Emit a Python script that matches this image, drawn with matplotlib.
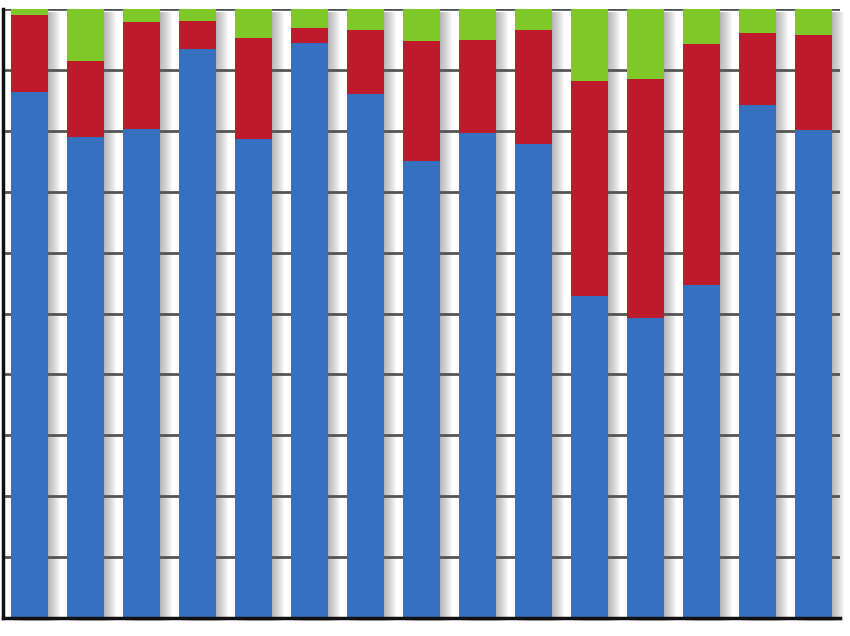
import matplotlib
matplotlib.use("Agg")
import matplotlib.pyplot as plt
import numpy as np

categories = [str(i) for i in range(1, 16)]
blue = [86.4, 79.0, 80.3, 93.4, 78.7, 94.4, 86.0, 75.0, 79.6, 77.8, 52.9, 49.3, 54.7, 84.2, 80.1]
red = [12.6, 12.5, 17.6, 4.6, 16.5, 2.5, 10.6, 19.7, 15.3, 18.8, 35.3, 39.2, 39.6, 11.9, 15.6]
green = [1.0, 8.5, 2.1, 2.0, 4.8, 3.1, 3.4, 5.3, 5.1, 3.4, 11.8, 11.5, 5.7, 3.9, 4.3]

fig = plt.figure(figsize=(8.5, 6.36), dpi=100)
ax = fig.add_axes([3/850, 18/636, 837/850, 609/636])

x = np.arange(len(categories))
w = 0.66
totals = np.array(blue) + np.array(red) + np.array(green)

# soft shadow behind each full stack
px = (len(categories) - 0.06) / 837.0  # data units per pixel in x
py = 100.0 / 609.0
for k in range(1, 13):
    ax.bar(x + k * px, totals, w, bottom=-3 * py, color='#606060',
           alpha=0.045, zorder=2, linewidth=0, clip_on=False)

ax.bar(x, blue, w, color='#3671c1', zorder=3)
ax.bar(x, red, w, bottom=blue, color='#be1a2b', zorder=3)
ax.bar(x, green, w, bottom=np.array(blue) + np.array(red), color='#7ec82a', zorder=3)

ax.set_xlim(-0.47, len(categories) - 0.53)
ax.set_ylim(0, 100)
ax.set_yticks(np.arange(0, 101, 10))
ax.yaxis.grid(True, color='#555555', linewidth=2, zorder=0)
ax.set_axisbelow(True)
ax.tick_params(left=False, bottom=False, labelleft=False, labelbottom=False)
for s in ('top', 'right'):
    ax.spines[s].set_visible(False)
ax.spines['left'].set_linewidth(2.5)
ax.spines['bottom'].set_linewidth(2.5)
ax.spines['left'].set_color('#111111')
ax.spines['bottom'].set_color('#111111')
ax.spines['left'].set_zorder(5)
ax.spines['bottom'].set_zorder(5)

fig.savefig("out.png", dpi=100)
